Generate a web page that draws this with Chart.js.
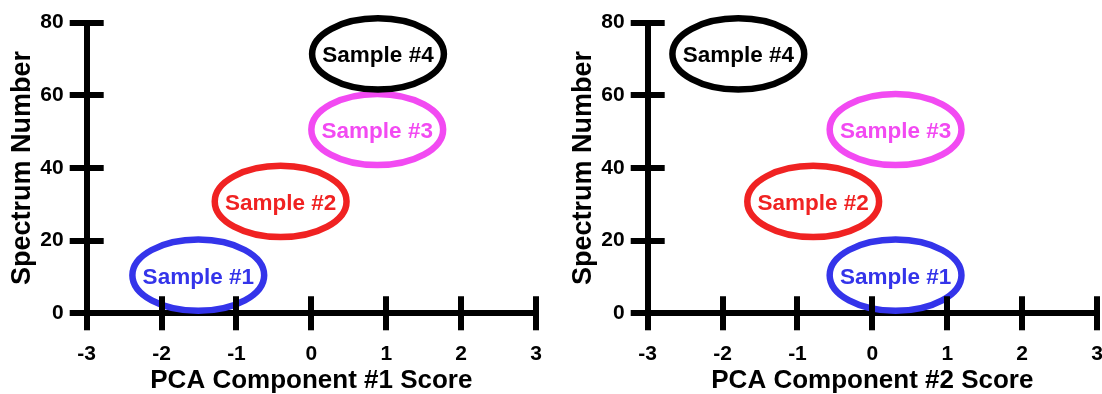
<!DOCTYPE html>
<html>
<head>
<meta charset="utf-8">
<script src="https://cdn.jsdelivr.net/npm/chart.js@4/dist/chart.umd.min.js"></script>
<style>
  html, body { margin: 0; padding: 0; width: 1102px; height: 394px; overflow: hidden; background: #fff; }
  canvas { position: absolute; top: 0; }
  #left { left: 0; }
  #right { left: 561px; }
</style>
</head>
<body>
<canvas id="left" width="561" height="394"></canvas>
<canvas id="right" width="561" height="394"></canvas>
<script>
// ---- data ----
const sampleNames = ['Sample #1', 'Sample #2', 'Sample #3', 'Sample #4'];
const spectrumCenter = [10.5, 30.8, 50.6, 71.4];
const spectrumHalfSpan = [9.8, 9.8, 9.8, 9.8];
const pc1Center = [-1.51, -0.41, 0.88, 0.89];
const pc2Center = [0.31, -0.79, 0.31, -1.79];
const scoreHalfSpan = [0.88, 0.88, 0.88, 0.88];
const xTickValues = [-3, -2, -1, 0, 1, 2, 3];
const xTickLabels = ['-3', '-2', '-1', '0', '1', '2', '3'];
const yTickValues = [0, 20, 40, 60, 80];
const yTickLabels = ['0', '20', '40', '60', '80'];
const xTitles = ['PCA Component #1 Score', 'PCA Component #2 Score'];
const yTitle = 'Spectrum Number';

// ---- styles ----
const sampleColors = ['#3434ea', '#f02222', '#f24af2', '#000000'];
const FONT = "'Liberation Sans', Arial, Helvetica, sans-serif";
Chart.defaults.font.family = FONT;
Chart.defaults.font.weight = 'bold';
Chart.defaults.color = '#000';

const AXIS_W = 6;
const TICK_LEN = 17;

const ellipsePlugin = {
  id: 'ellipses',
  afterDatasetsDraw(chart) {
    const {ctx, scales: {x, y}} = chart;
    chart.data.datasets.forEach(ds => {
      const p = ds.data[0];
      const cx = x.getPixelForValue(p.x);
      const cy = y.getPixelForValue(p.y);
      const rx = Math.abs(x.getPixelForValue(p.x + ds.halfX) - cx);
      const ry = Math.abs(y.getPixelForValue(p.y + ds.halfY) - cy);
      ctx.save();
      ctx.strokeStyle = ds.borderColor;
      ctx.lineWidth = 6.5;
      ctx.beginPath();
      ctx.ellipse(cx, cy, rx, ry, 0, 0, Math.PI * 2);
      ctx.stroke();
      ctx.fillStyle = ds.borderColor;
      ctx.font = 'bold 22.5px ' + FONT;
      ctx.textAlign = 'center';
      ctx.textBaseline = 'alphabetic';
      ctx.fillText(ds.label, cx, cy + 8.5);
      ctx.restore();
    });
  }
};

const innerTickPlugin = {
  id: 'innerTicks',
  afterDraw(chart) {
    const {ctx, chartArea, scales: {x, y}} = chart;
    const off = (AXIS_W % 2) ? 0.5 : 0;
    ctx.save();
    ctx.strokeStyle = '#000';
    ctx.lineWidth = AXIS_W;
    ctx.beginPath();
    x.ticks.forEach(t => {
      const px = Math.round(x.getPixelForValue(t.value)) + off;
      ctx.moveTo(px, chartArea.bottom);
      ctx.lineTo(px, chartArea.bottom - TICK_LEN);
    });
    y.ticks.forEach(t => {
      const py = Math.round(y.getPixelForValue(t.value)) + off;
      ctx.moveTo(chartArea.left, py);
      ctx.lineTo(chartArea.left + TICK_LEN, py);
    });
    ctx.stroke();
    ctx.restore();
  }
};

function makePanel(canvasId, xCenters, xTitle) {
  const datasets = sampleNames.map((name, i) => ({
    label: name,
    data: [{x: xCenters[i], y: spectrumCenter[i]}],
    halfX: scoreHalfSpan[i],
    halfY: spectrumHalfSpan[i],
    borderColor: sampleColors[i],
    backgroundColor: sampleColors[i],
    pointRadius: 0,
    showLine: false
  }));
  return new Chart(document.getElementById(canvasId), {
    type: 'scatter',
    data: { datasets },
    plugins: [ellipsePlugin, innerTickPlugin],
    options: {
      responsive: false,
      animation: false,
      events: [],
      layout: { padding: { left: 0, top: 22.7, right: 25, bottom: 0 } },
      plugins: { legend: { display: false }, tooltip: { enabled: false } },
      scales: {
        x: {
          type: 'linear',
          position: 'bottom',
          min: -3, max: 3,
          z: 1,
          afterBuildTicks: s => { s.ticks = xTickValues.map(v => ({value: v})); },
          afterFit: s => { s.height = 394 - 313.3; },
          ticks: {
            padding: 11,
            font: { size: 21, weight: 'bold' },
            color: '#000',
            maxRotation: 0,
            autoSkip: false,
            callback: v => xTickLabels[xTickValues.indexOf(v)]
          },
          grid: { display: true, drawOnChartArea: false, drawTicks: true, tickLength: TICK_LEN, color: '#000', lineWidth: AXIS_W },
          border: { display: true, color: '#000', width: AXIS_W },
          title: { display: true, text: xTitle, color: '#000', font: { size: 26, weight: 'bold', lineHeight: 1 }, padding: { top: 0, bottom: 0 } }
        },
        y: {
          type: 'linear',
          position: 'left',
          min: 0, max: 80,
          z: 1,
          afterBuildTicks: s => { s.ticks = yTickValues.map(v => ({value: v})); },
          afterFit: s => { s.width = 86.7; },
          ticks: {
            padding: 6,
            font: { size: 21, weight: 'bold' },
            color: '#000',
            autoSkip: false,
            callback: v => yTickLabels[yTickValues.indexOf(v)]
          },
          grid: { display: true, drawOnChartArea: false, drawTicks: true, tickLength: TICK_LEN, color: '#000', lineWidth: AXIS_W },
          border: { display: true, color: '#000', width: AXIS_W },
          title: { display: true, text: yTitle, color: '#000', font: { size: 27, weight: 'bold', lineHeight: 1 }, padding: { top: 8.8, bottom: 0 } }
        }
      }
    }
  });
}

makePanel('left', pc1Center, xTitles[0]);
makePanel('right', pc2Center, xTitles[1]);
</script>
</body>
</html>
